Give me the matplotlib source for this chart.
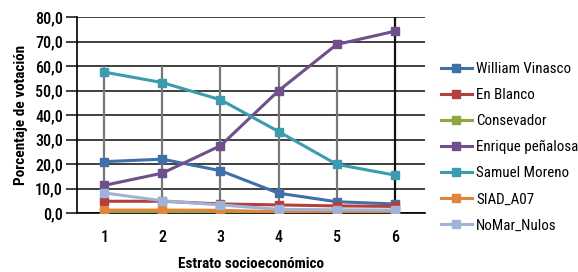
import matplotlib
matplotlib.use("Agg")
import matplotlib.pyplot as plt
from matplotlib import font_manager

names = {f.name for f in font_manager.fontManager.ttflist}
fam = "Roboto Condensed" if "Roboto Condensed" in names else "Liberation Sans"
plt.rcParams['font.family'] = [fam, 'DejaVu Sans']

estratos = [1, 2, 3, 4, 5, 6]
series_names = ["William Vinasco", "En Blanco", "Consevador", "Enrique peñalosa",
                "Samuel Moreno", "SIAD_A07", "NoMar_Nulos"]
william = [21.0, 22.0, 17.3, 8.1, 4.6, 3.7]
blanco = [4.8, 4.8, 3.7, 3.3, 2.9, 2.7]
conservador = [0.3, 0.3, 0.3, 0.3, 0.2, 0.2]
penalosa = [11.3, 16.3, 27.5, 50.0, 68.9, 74.3]
moreno = [57.6, 53.3, 46.3, 33.3, 19.9, 15.5]
siad = [1.2, 1.2, 1.1, 0.5, 0.5, 0.4]
nulos = [8.2, 5.0, 3.3, 1.5, 1.3, 1.2]
yticks = [0, 10, 20, 30, 40, 50, 60, 70, 80]
ytick_labels = ["0,0", "10,0", "20,0", "30,0", "40,0", "50,0", "60,0", "70,0", "80,0"]

colors = ["#3F70A9", "#B3403D", "#8EA83F", "#6F508D", "#3B9BAF", "#E0853A", "#9DB3D8"]
data = [william, blanco, conservador, penalosa, moreno, siad, nulos]

fig = plt.figure(figsize=(5.78, 2.72), dpi=100)
ax = fig.add_axes([0.1332, 0.2169, 0.6021, 0.7195])

# horizontal gridlines
for t in yticks:
    ax.axhline(t, color="#202020", lw=1.2, zorder=1)
# vertical category lines
vtops = [60, 60, 60, 60, 60, 80]
for x, top in zip(estratos, vtops):
    ax.vlines(x, 0, top, color="#777777" if top < 80 else "#111111", lw=1.6, zorder=1.5)

for name, vals, c in zip(series_names, data, colors):
    ax.plot(estratos, vals, color=c, lw=2.2, marker="s", markersize=6,
            markeredgecolor=c, label=name, zorder=3)

ax.set_xlim(0.53, 6.52)
ax.set_ylim(0, 80)
ax.set_yticks(yticks)
ax.set_yticklabels(ytick_labels)
ax.set_xticks(estratos)
for s in ["top", "right"]:
    ax.spines[s].set_visible(False)
ax.spines["left"].set_color("black")
ax.spines["left"].set_linewidth(1.2)
ax.spines["bottom"].set_color("black")
ax.spines["bottom"].set_linewidth(1.2)
ax.tick_params(axis="y", length=8, width=1.2, color="#202020", labelsize=11.5, pad=2)
ax.tick_params(axis="x", length=0, labelsize=11.5, pad=12)
for lab in ax.get_yticklabels() + ax.get_xticklabels():
    lab.set_fontweight("medium")

ax.set_ylabel("Porcentaje de votación", fontsize=11, fontweight="bold", labelpad=5)
ax.set_xlabel("Estrato socioeconómico", fontsize=11, fontweight="bold", labelpad=9)

leg = fig.legend(loc="upper left", bbox_to_anchor=(0.7526, 0.793), frameon=False,
                 prop={"size": 10.8}, handlelength=2.05, handletextpad=0.3,
                 labelspacing=0.8, borderaxespad=0)

fig.savefig("out.png", dpi=100)
